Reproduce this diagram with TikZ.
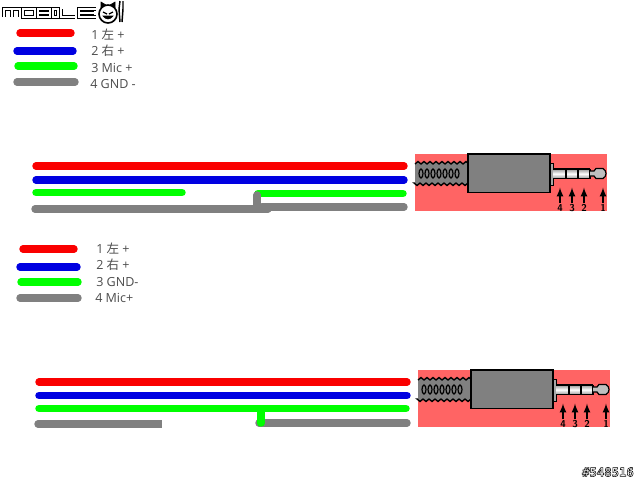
\documentclass[tikz,border=0pt]{standalone}
\usepackage{fontspec}
\setmainfont{Open Sans}
\newfontfamily\cjkfont{Noto Sans CJK SC}
\newfontfamily\idfont{DejaVu Sans Mono}
\tikzset{
  wire/.style={line width=5.6pt,line cap=round},
  cut/.style={line width=5.6pt},
  logoline/.style={line width=.8pt,double=white,double distance=.8pt},
  legendtext/.style={anchor=west,inner sep=0pt,font=\fontsize{9.4}{10}\selectfont,text=black!70},
  tagtext/.style={inner sep=0pt,font=\sffamily\bfseries\fontsize{7.5}{7.5}\selectfont},
  tiparrow/.style={-latex,line width=1.3pt}
}
\definecolor{wirered}{RGB}{250,0,0}
\definecolor{wireblue}{RGB}{0,0,225}
\definecolor{wiregreen}{RGB}{0,255,0}
\definecolor{wiregray}{RGB}{128,128,128}
\definecolor{jackbg}{RGB}{255,100,100}
\newcommand{\jackplug}[1]{
  \begin{scope}[shift={(#1)}]
    \fill[jackbg] (415,153.5) rectangle (607,211);
    % strain relief
    \draw[fill=wiregray,line width=1pt] (415,164)
      \foreach \i in {0,...,8} {-- ++(3,-2.5) -- ++(3,2.5)} -- (468,164) -- (468,183)
      \foreach \i in {0,...,8} {-- ++(-3,2.5) -- ++(-3,-2.5)} -- (415,183);
    \foreach \i in {0,...,6}
      \draw[line width=.9pt] (421+\i*6,173.5) ellipse (2 and 4.5);
    \draw[fill=wiregray,line width=1.2pt] (468,154) rectangle (550,192.5);
    \draw[fill=black!35,line width=.5pt] (550,163) rectangle (553,185);
    % plug
    \shade[top color=black!40,bottom color=black!40,middle color=white] (553,169) rectangle (590,178.5);
    \draw[line width=.9pt] (553,169) -- (590,169) (553,178.5) -- (590,178.5);
    \foreach \i in {566,578,590}
      \draw[line width=.9pt] (\i,169) -- (\i,178.5);
    \draw[fill=black!25,line width=.9pt] (590,171) -- (594,171) -- (596,168.5) -- (603,168.5)
      .. controls (605,170) and (606,171) .. (606,173.5) .. controls (606,176) and (605,177) .. (603,178.5)
      -- (596,178.5) -- (594,176) -- (590,176);
    \foreach \i/\n in {560/4,572/3,584/2,603/1} {
      \draw[tiparrow] (\i,203) -- (\i,187.5);
      \node[tagtext] (tag\n) at (\i,208) {\n};
    }
  \end{scope}
}
\begin{document}
\begin{tikzpicture}[x=.75pt,y=-.75pt]
  \useasboundingbox (0,0) rectangle (640,480);
  % logo
  \draw[logoline] (4,17) -- (4,9) -- (20,9) -- (20,17) (12,9) -- (12,17);
  \draw[logoline] (23,9) rectangle (35,17);
  \draw[logoline] (38,9) rectangle (50,17) (38,13) -- (50,13);
  \draw[logoline] (53,9) rectangle (58,17);
  \draw[logoline] (61,9) -- (61,17) -- (75,17);
  \draw[logoline] (96,9) -- (79,9) -- (79,17) -- (96,17) (79,13) -- (94,13);
  \draw[line width=1.2pt] (108,14) circle (9);
  \draw[fill=black] (101,8) -- (101,2) -- (106,5) (115,8) -- (115,2) -- (110,5);
  \draw[line width=.9pt] (103,12) -- (107,14) (113,12) -- (109,14);
  \draw[fill=black] (103,16) .. controls (106,20) and (110,20) .. (113,16) -- cycle;
  \draw[line width=1.1pt] (120,1) -- (119,9) -- (120,22) (123,1) -- (123,9) -- (122,22);
  % top legend
  \draw[wire,wirered] (20,33) -- (71,33);
  \draw[wire,wireblue] (17,51) -- (73,51);
  \draw[wire,wiregreen] (18,66) -- (74,66);
  \draw[wire,wiregray] (17,82) -- (75,82);
  \node[legendtext] (top1) at (91,35) {1 {\cjkfont 左} +};
  \node[legendtext] (top2) at (91,51) {2 {\cjkfont 右} +};
  \node[legendtext] (top3) at (91,68) {3 Mic +};
  \node[legendtext] (top4) at (90,84) {4 GND -};
  % top wires
  \draw[wire,wirered] (36,166) -- (404,166);
  \draw[wire,wireblue] (36,180) -- (404,180);
  \draw[wire,wiregreen] (36,192.5) -- (182,192.5);
  \draw[wire,wiregreen] (258,193.5) -- (403,193.5);
  \draw[wire,wiregray] (262,207) -- (404,207);
  \draw[wire,wiregray] (35,209) -- (268,209);
  \draw[wire,wiregray] (257,195) -- (257,209);
  \jackplug{0,0}
  % bottom legend
  \draw[wire,wirered] (23,249) -- (74,249);
  \draw[wire,wireblue] (20,267) -- (77,267);
  \draw[wire,wiregreen] (21,282) -- (78,282);
  \draw[wire,wiregray] (20,298) -- (78,298);
  \node[legendtext] (bot1) at (96,249) {1 {\cjkfont 左} +};
  \node[legendtext] (bot2) at (96,265) {2 {\cjkfont 右} +};
  \node[legendtext] (bot3) at (96,282) {3 GND-};
  \node[legendtext] (bot4) at (95,298) {4 Mic+};
  % bottom wires
  \draw[wire,wirered] (39,382) -- (407,382);
  \draw[wire,wireblue] (39,395.5) -- (407,395.5);
  \draw[wire,wiregray] (38,424) -- (100,424);
  \draw[cut,wiregray] (100,424) -- (162,424);
  \draw[wire,wiregray] (259,423) -- (407,423);
  \draw[wire,wiregreen] (39,408.5) -- (406,408.5);
  \draw[wire,wiregreen] (261,409) -- (261,423);
  \jackplug{3,216}
  \node[inner sep=0pt,font=\idfont\bfseries\fontsize{9.2}{10}\selectfont] (postid) at (608,472) {\special{pdf:code 2 Tr 0.4 w 0 0 0 RG 1 1 1 rg}\#548516\special{pdf:code 0 Tr 0 0 0 rg}};
\end{tikzpicture}
\end{document}
